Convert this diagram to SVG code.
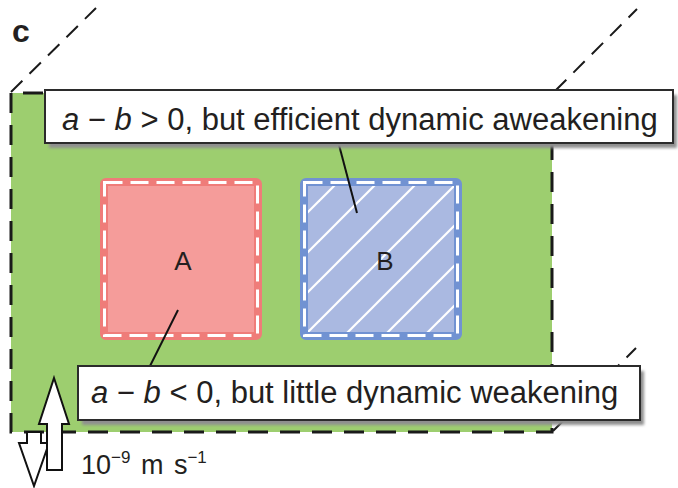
<svg xmlns="http://www.w3.org/2000/svg" width="678" height="488" viewBox="0 0 678 488">
  <style>
    .txt { font-family: "Liberation Sans", Arial, sans-serif; fill: #231f20; }
    .big { font-size: 31px; }
    .edge { fill: none; stroke: #1a1a1a; stroke-width: 3; stroke-dasharray: 20 12; }
    .diag { fill: none; stroke: #1a1a1a; stroke-width: 2; stroke-dasharray: 16 10; }
    .lbl { fill: #ffffff; stroke: #2b2b2b; stroke-width: 2; }
    .shadow { fill: #8f8f8f; filter: url(#blur); }
    .leader { stroke: #111; stroke-width: 2; fill: none; }
    .arrow { fill: #ffffff; stroke: #111; stroke-width: 2; stroke-linejoin: miter; }
    .wdash { fill: none; stroke: #ffffff; stroke-width: 3; stroke-dasharray: 18 8; }
  </style>
  <defs>
    <filter id="blur" x="-5%" y="-20%" width="110%" height="140%">
      <feGaussianBlur stdDeviation="1.5"/>
    </filter>
    <pattern id="hatch" patternUnits="userSpaceOnUse" width="40" height="40">
      <line x1="0" y1="40" x2="40" y2="0" stroke="#ffffff" stroke-width="2.2"/>
      <line x1="-2" y1="2" x2="2" y2="-2" stroke="#ffffff" stroke-width="2.2"/>
      <line x1="38" y1="42" x2="42" y2="38" stroke="#ffffff" stroke-width="2.2"/>
    </pattern>
  </defs>

  <rect width="678" height="488" fill="#ffffff"/>

  <!-- panel label -->
  <text id="panel-label" class="txt" x="12" y="42" font-size="32" font-weight="bold">c</text>

  <!-- fault block (green plane) -->
  <g id="fault-plane">
    <line class="diag" x1="11" y1="92" x2="96" y2="8"/>
    <line class="diag" x1="555" y1="91" x2="637" y2="9"/>
    <line class="diag" x1="553" y1="431" x2="636" y2="348"/>
    <rect x="11" y="93" width="541" height="339" fill="#9dce6f"/>
    <path class="edge" d="M11,93 V432 H552 V93 H11"/>
  </g>

  <!-- block A -->
  <g id="blockA">
    <rect x="104" y="182" width="154" height="154" rx="2" fill="#f59c9a" stroke="#ef7c79" stroke-width="8"/>
    <rect class="wdash" x="104.5" y="182.5" width="153" height="153"/>
    <text class="txt" x="183" y="270" font-size="26" text-anchor="middle">A</text>
  </g>

  <!-- block B -->
  <g id="blockB">
    <rect x="304" y="182" width="154" height="154" rx="2" fill="#aab9e1" stroke="#7192d2" stroke-width="8"/>
    <rect x="308" y="186" width="146" height="146" fill="url(#hatch)"/>
    <rect class="wdash" x="304.5" y="182.5" width="153" height="153"/>
    <text class="txt" x="385" y="270" font-size="26" text-anchor="middle">B</text>
  </g>

  <!-- connectors (leader lines) -->
  <g id="connectors">
    <line class="leader" x1="338.5" y1="143" x2="357" y2="213"/>
    <line class="leader" x1="178" y1="310" x2="149.5" y2="367"/>
  </g>

  <!-- top label -->
  <g id="label-top">
    <rect class="shadow" x="49" y="95" width="628" height="53"/>
    <rect class="lbl" x="45" y="90" width="628" height="53"/>
    <text class="txt big" x="62" y="130"><tspan font-style="italic">a</tspan> − <tspan font-style="italic">b</tspan> &gt; 0, but efficient dynamic aweakening</text>
  </g>

  <!-- bottom label -->
  <g id="label-bottom">
    <rect class="shadow" x="82" y="371" width="562" height="54"/>
    <rect class="lbl" x="78" y="366" width="562" height="54"/>
    <text class="txt big" x="91" y="403"><tspan font-style="italic">a</tspan> − <tspan font-style="italic">b</tspan> &lt; 0, but little dynamic weakening</text>
  </g>

  <!-- slip arrows -->
  <g id="slip-arrows">
    <polygon class="arrow" points="27,432 41,432 41,443 49,443 34,486 19,443 27,443"/>
    <polygon class="arrow" points="54,378 69,424 62,424 62,470 47,470 47,424 39,424"/>
  </g>

  <!-- rate label -->
  <text id="rate-label" class="txt" x="81" y="474" font-size="27" word-spacing="3">10<tspan font-size="17" dy="-11">−9</tspan><tspan dy="11"> m s</tspan><tspan font-size="17" dy="-11">−1</tspan></text>
</svg>
